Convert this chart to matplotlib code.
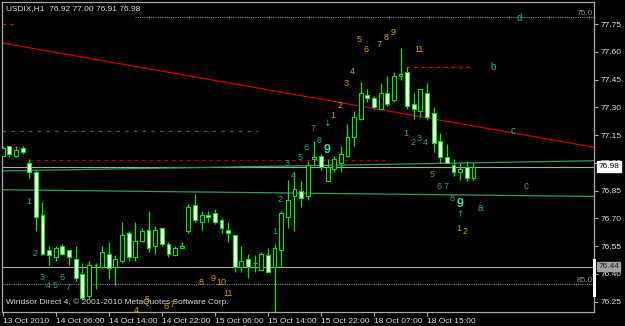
import numpy as np
import matplotlib
matplotlib.use('Agg')
import matplotlib.pyplot as plt
from matplotlib.patches import Rectangle

plt.rcParams['font.family'] = ['Liberation Sans Narrow', 'Liberation Sans', 'DejaVu Sans']

# ============================================================
# USDIX H1 bars (bar 0 = 13 Oct 22:00)
# ============================================================
opens = [77.04, 77.09, 77.04, 77.08, 77.00, 76.95, 76.72, 76.53, 76.49, 76.55,
         76.53, 76.48, 76.40, 76.28, 76.45, 76.44, 76.51, 76.44, 76.47, 76.62,
         76.49, 76.58, 76.64, 76.55, 76.65, 76.56, 76.50, 76.54, 76.63, 76.77,
         76.68, 76.72, 76.73, 76.69, 76.64, 76.61, 76.44, 76.48, 76.46, 76.42,
         76.50, 76.44, 76.53, 76.71, 76.82, 76.85, 76.82, 77.02, 77.04, 76.90,
         76.97, 77.00, 77.04, 77.14, 77.24, 77.37, 77.35, 77.29, 77.38, 77.34,
         77.47, 77.49, 77.32, 77.28, 77.38, 77.27, 77.12, 77.03, 76.99, 76.95,
         76.98, 76.92]
highs = [77.09, 77.09, 77.09, 77.09, 77.02, 76.96, 76.79, 76.55, 76.55, 76.56,
         76.53, 76.55, 76.46, 76.47, 76.46, 76.55, 76.57, 76.50, 76.68, 76.63,
         76.68, 76.65, 76.74, 76.66, 76.65, 76.57, 76.55, 76.57, 76.78, 76.83,
         76.74, 76.74, 76.75, 76.70, 76.68, 76.61, 76.55, 76.51, 76.50, 76.52,
         76.54, 76.56, 76.74, 76.91, 76.95, 76.90, 77.01, 77.12, 77.05, 77.02,
         77.04, 77.09, 77.21, 77.28, 77.44, 77.40, 77.36, 77.43, 77.47, 77.49,
         77.62, 77.52, 77.38, 77.40, 77.43, 77.30, 77.16, 77.10, 77.02, 77.00,
         77.01, 77.00]
lows = [77.04, 77.03, 77.03, 77.05, 76.92, 76.63, 76.50, 76.45, 76.47, 76.50,
        76.45, 76.36, 76.26, 76.27, 76.32, 76.43, 76.37, 76.34, 76.46, 76.47,
        76.47, 76.57, 76.52, 76.51, 76.55, 76.49, 76.50, 76.54, 76.62, 76.68,
        76.64, 76.68, 76.67, 76.62, 76.57, 76.41, 76.41, 76.38, 76.41, 76.42,
        76.41, 76.15, 76.44, 76.65, 76.63, 76.76, 76.80, 76.99, 76.96, 76.90,
        76.95, 76.95, 77.03, 77.09, 77.23, 77.33, 77.29, 77.29, 77.31, 77.33,
        77.45, 77.29, 77.24, 77.25, 77.23, 77.06, 77.00, 77.00, 76.93, 76.91,
        76.90, 76.91]
closes = [77.08, 77.05, 77.07, 77.06, 76.95, 76.71, 76.51, 76.50, 76.54, 76.51,
          76.49, 76.38, 76.27, 76.45, 76.45, 76.52, 76.43, 76.48, 76.61, 76.49,
          76.58, 76.63, 76.54, 76.64, 76.56, 76.51, 76.54, 76.55, 76.76, 76.69,
          76.72, 76.71, 76.68, 76.65, 76.62, 76.44, 76.47, 76.44, 76.46, 76.51,
          76.41, 76.54, 76.73, 76.80, 76.86, 76.81, 76.99, 77.03, 76.98, 76.98,
          77.02, 77.05, 77.14, 77.25, 77.38, 77.35, 77.30, 77.38, 77.32, 77.47,
          77.48, 77.31, 77.29, 77.40, 77.25, 77.11, 77.03, 77.00, 76.95, 76.97,
          76.92, 76.98]

time_ticks = [0, 8, 16, 24, 32, 40, 48, 56, 64]
time_labels = ['13 Oct 2010', '14 Oct 06:00', '14 Oct 14:00', '14 Oct 22:00',
               '15 Oct 06:00', '15 Oct 14:00', '15 Oct 22:00', '18 Oct 07:00',
               '18 Oct 15:00']
price_ticks = [76.25, 76.40, 76.55, 76.70, 76.85, 77.00, 77.15, 77.30, 77.45, 77.60, 77.75]

# drawn objects (bar, price)
red_trend_x = [-0.1, 89.2]
red_trend_p = [77.649, 77.085]
green_up_x = [-0.1, 89.2]
green_up_p = [76.957, 77.012]
green_lo_x = [-0.1, 89.2]
green_lo_p = [76.855, 76.819]
green_dash_x = [-0.1, 38.5]
green_dash_p = 77.173
red_dash_x = [3.97, 58.4]
red_dash_p = 77.016
red_dash2_x = [60.8, 70.5]
red_dash2_p = 77.521
red_top_x = [-0.1, 1.55]
red_top_p = 77.75
bid = 76.98
hline = 76.44
fibo_lo = 76.345
fibo_hi = 77.791

# wave labels: (text, bar, price)
gold_labels = [('1', 49.8, 77.254), ('2', 50.9, 77.308), ('3', 51.8, 77.427),
               ('4', 52.8, 77.492), ('5', 53.7, 77.665), ('6', 54.8, 77.616),
               ('7', 56.8, 77.643), ('8', 57.8, 77.681), ('9', 58.9, 77.703),
               ('11', 62.8, 77.616),
               ('8', 29.9, 76.356), ('9', 31.7, 76.373), ('10', 32.9, 76.351),
               ('11', 34.0, 76.292),
               ('4', 20.1, 76.200), ('5', 21.8, 76.264), ('6', 24.6, 76.226),
               ('7', 25.5, 76.237),
               ('1', 68.8, 76.643), ('2', 69.7, 76.627)]
teal_labels = [('1', 3.97, 76.794), ('2', 4.87, 76.513), ('3', 5.93, 76.383),
               ('4', 6.83, 76.335), ('5', 7.9, 76.340), ('6', 8.94, 76.383),
               ('7', 9.85, 76.329),
               ('1', 41.0, 76.627), ('2', 41.8, 76.800), ('3', 42.9, 76.995),
               ('4', 43.8, 76.930), ('5', 44.8, 77.027), ('6', 45.7, 77.086),
               ('7', 46.8, 77.189), ('8', 47.7, 77.119), ('\u2193', 48.9, 77.211),
               ('1', 60.8, 77.157), ('2', 61.9, 77.108), ('3', 62.8, 77.130),
               ('4', 63.8, 77.108), ('5', 64.7, 76.935), ('6', 65.8, 76.875),
               ('7', 66.9, 76.875), ('8', 67.8, 76.810), ('\u2191', 69.0, 76.719)]
bold_nines = [('9', 48.9, 77.070), ('9', 69.0, 76.778)]
letter_labels = [('a', 72.0, 76.757), ('b', 73.95, 77.519), ('c', 76.97, 77.173),
                 ('c', 78.9, 76.875), ('d', 77.9, 77.784)]

# ============================================================
# Figure
# ============================================================
W, H = 625, 326
fig = plt.figure(figsize=(W / 100, H / 100), dpi=100, facecolor='black')
ax = fig.add_axes([2 / W, (H - 312) / H, 592 / W, 310.3 / H])
ax.set_facecolor('black')
ax.set_xlim(-0.106, 89.18)
ax.set_ylim(76.194, 77.872)

candle = '#00e600'
grey = '#a8a8a8'
fs = 6

# horizontal objects
ax.axhline(bid, color=grey, lw=0.8, zorder=1)
ax.axhline(hline, color=grey, lw=0.8, zorder=1)
ax.axhline(fibo_lo, color='#808080', lw=0.8, ls=(0, (1, 1)), zorder=1)
ax.plot([20, 89.2], [fibo_hi, fibo_hi], color='#808080', lw=0.8, ls=(0, (1, 1)), zorder=1)
ax.text(0.998, fibo_lo, '85.0', transform=ax.get_yaxis_transform(), color='#8a8a8a',
        fontsize=fs, ha='right', va='bottom')
ax.text(0.998, fibo_hi, '75.0', transform=ax.get_yaxis_transform(), color='#8a8a8a',
        fontsize=fs, ha='right', va='bottom')

ax.plot(green_up_x, green_up_p, color='#2f9a5c', lw=0.9, zorder=1)
ax.plot(green_lo_x, green_lo_p, color='#2f9a5c', lw=0.9, zorder=1)
ax.plot(green_dash_x, [green_dash_p] * 2, color='#1f6e3c', lw=0.9, ls=(0, (3, 4)), zorder=1)
ax.plot(red_trend_x, red_trend_p, color='#c80000', lw=0.9, zorder=1)
ax.plot(red_dash_x, [red_dash_p] * 2, color='#a80000', lw=0.9, ls=(0, (3, 3)), zorder=1)
ax.plot(red_dash2_x, [red_dash2_p] * 2, color='#e00000', lw=0.9, ls=(0, (3, 3)), zorder=1)
ax.plot(red_top_x, [red_top_p] * 2, color='#e00000', lw=0.9, ls=(0, (3, 3)), zorder=1)

# candles
bw = 0.58
for i, (o, h, l, c) in enumerate(zip(opens, highs, lows, closes)):
    ax.vlines(i, l, h, color=candle, lw=0.9, zorder=3)
    lo, hi = min(o, c), max(o, c)
    if hi - lo < 0.001:
        ax.hlines(o, i - bw / 2, i + bw / 2, color=candle, lw=0.9, zorder=4)
        continue
    fc = 'white' if c < o else 'black'
    ax.add_patch(Rectangle((i - bw / 2, lo), bw, hi - lo, facecolor=fc,
                           edgecolor=candle, lw=0.8, zorder=4))

# wave labels
for t, x, p in gold_labels:
    ax.text(x, p, t, color='#d0a000', fontsize=6.5, ha='center', va='center', zorder=5)
for t, x, p in teal_labels:
    ax.text(x, p, t, color='#22a582', fontsize=6.5, ha='center', va='center', zorder=5,
            family=['DejaVu Sans'] if t in '\u2191\u2193' else None)
for t, x, p in bold_nines:
    ax.text(x, p, t, color='#3ed6a6', fontsize=9, fontweight='bold', ha='center',
            va='center', zorder=5)
for t, x, p in letter_labels:
    ax.text(x, p, t, color='#22a8a8', fontsize=7, ha='center', va='center', zorder=5)

# header / footer
ax.text(0.006, 0.978, 'USDIX,H1  76.92 77.00 76.91 76.98', transform=ax.transAxes,
        color='#d8d8d8', fontsize=fs, ha='left', va='center')
ax.text(0.006, 0.032, 'Windsor Direct 4, \u00a9 2001-2010 MetaQuotes Software Corp.',
        transform=ax.transAxes, color='#d8d8d8', fontsize=fs, ha='left', va='center')

# axes
for s in ax.spines.values():
    s.set_color(grey)
    s.set_linewidth(0.9)
ax.yaxis.tick_right()
ax.set_yticks(price_ticks)
ax.set_yticklabels([f'{p:.2f}' for p in price_ticks])
ax.set_xticks(time_ticks)
ax.set_xticklabels(time_labels)
ax.tick_params(axis='both', colors=grey, labelcolor='#e0e0e0', labelsize=fs,
               length=3, width=0.8, pad=1.5, direction='out')
for lab in ax.get_xticklabels():
    lab.set_ha('left')

# price boxes on the axis
ax.annotate('76.98', xy=(1.0, bid), xycoords=ax.get_yaxis_transform(),
            xytext=(3, 0), textcoords='offset points', fontsize=fs, color='black',
            va='center', ha='left', zorder=10,
            bbox=dict(boxstyle='square,pad=0.2', fc='white', ec='white'))
ax.annotate('76.44', xy=(1.0, hline), xycoords=ax.get_yaxis_transform(),
            xytext=(3, 0), textcoords='offset points', fontsize=fs, color='#202020',
            va='center', ha='left', zorder=10,
            bbox=dict(boxstyle='square,pad=0.15', fc='#a0a0a0', ec='#a0a0a0'))
fig.patches.append(Rectangle((592.5 / W, (H - 297) / H), 3 / W, 38 / H,
                             transform=fig.transFigure, fc='white', ec='none'))

fig.savefig('out.png', dpi=100, facecolor='black')
